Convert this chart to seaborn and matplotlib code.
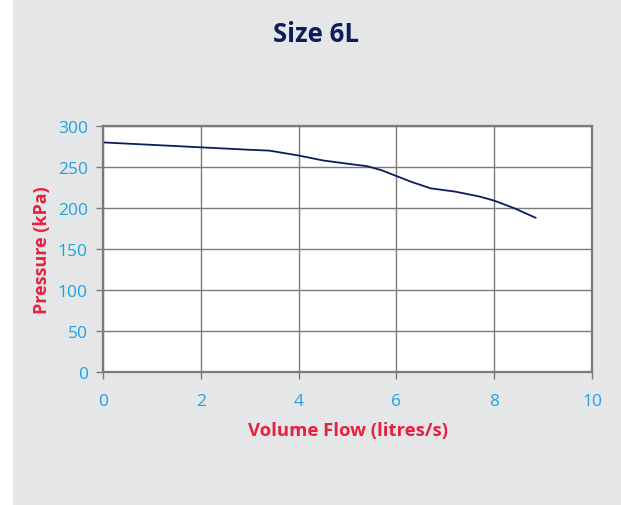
import numpy as np
import pandas as pd
import seaborn as sns
import matplotlib.pyplot as plt
from matplotlib.patches import Rectangle

# pump curve
flow = [0, 1, 2, 3, 3.4, 4, 4.5, 5, 5.4, 5.7, 6.0, 6.3, 6.7, 7.2, 7.7, 8.0, 8.4, 8.85]
pressure = [280, 277, 274, 271, 270, 264, 258, 254, 251, 246, 239, 232, 224, 220, 214, 209, 200, 188]
x_ticks = [0, 2, 4, 6, 8, 10]
y_ticks = [0, 50, 100, 150, 200, 250, 300]

df = pd.DataFrame({'flow': flow, 'pressure': pressure})

sns.set_theme(style='white')
plt.rcParams['font.family'] = ['Open Sans', 'DejaVu Sans']

navy = '#0c1c5c'
blue = '#1ea3e0'
red = '#e8203f'
grey = '#e5e6e8'
edge = '#7a7a7a'

fig = plt.figure(figsize=(6.21, 5.06), dpi=100)
fig.patch.set_facecolor(grey)
# white strip down the left edge
fig.patches.append(Rectangle((0, 0), 13 / 621, 1, transform=fig.transFigure,
                             facecolor='white', edgecolor='none'))

ax = fig.add_axes([103 / 621, 133 / 506, 489 / 621, 246 / 506])
ax.set_facecolor('white')
sns.lineplot(data=df, x='flow', y='pressure', ax=ax, color=navy, linewidth=1.3)

ax.set_xlim(0, 10)
ax.set_ylim(0, 300)
ax.set_xticks(x_ticks)
ax.set_yticks(y_ticks)
ax.grid(True, color=edge, linewidth=1)
ax.set_axisbelow(True)
for s in ax.spines.values():
    s.set_color(edge)
    s.set_linewidth(1.6)

ax.tick_params(axis='both', colors=edge, labelcolor=blue, labelsize=12.5,
               length=5, width=1, direction='out', pad=6)
ax.tick_params(axis='x', bottom=True, pad=10)
ax.tick_params(axis='y', left=True)

ax.set_xlabel('Volume Flow (litres/s)', color=red, fontsize=13.3,
              fontweight='bold', labelpad=9)
ax.set_ylabel('Pressure (kPa)', color=red, fontsize=13,
              fontweight='bold', labelpad=5)

fig.text(316 / 621, 1 - 34 / 506, 'Size 6L', ha='center', va='center',
         color=navy, fontsize=18.5, fontweight='bold')

fig.savefig('out.png', dpi=100)
